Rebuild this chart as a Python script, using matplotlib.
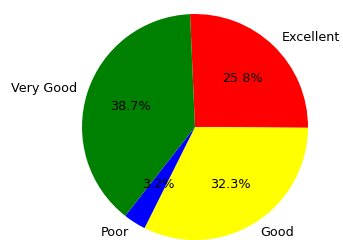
import matplotlib
matplotlib.use("Agg")
import matplotlib.pyplot as plt

labels = ["Excellent", "Good", "Poor", "Very Good"]
counts = [8, 10, 1, 12]
colors = ["red", "yellow", "blue", "green"]

fig = plt.figure(figsize=(3.43, 2.40), dpi=100)
ax = fig.add_axes([0.0, 0.0, 1.0, 1.0])
ax.pie(counts, labels=labels, colors=colors, autopct="%1.1f%%",
       startangle=92.5, counterclock=False, textprops={"fontsize": 9.2})
ax.set_aspect("equal")
ax.set_xlim(-1.726, 1.31)
ax.set_ylim(-1.0, 1.124)
ax.axis("off")
fig.savefig("out.png", dpi=100)
